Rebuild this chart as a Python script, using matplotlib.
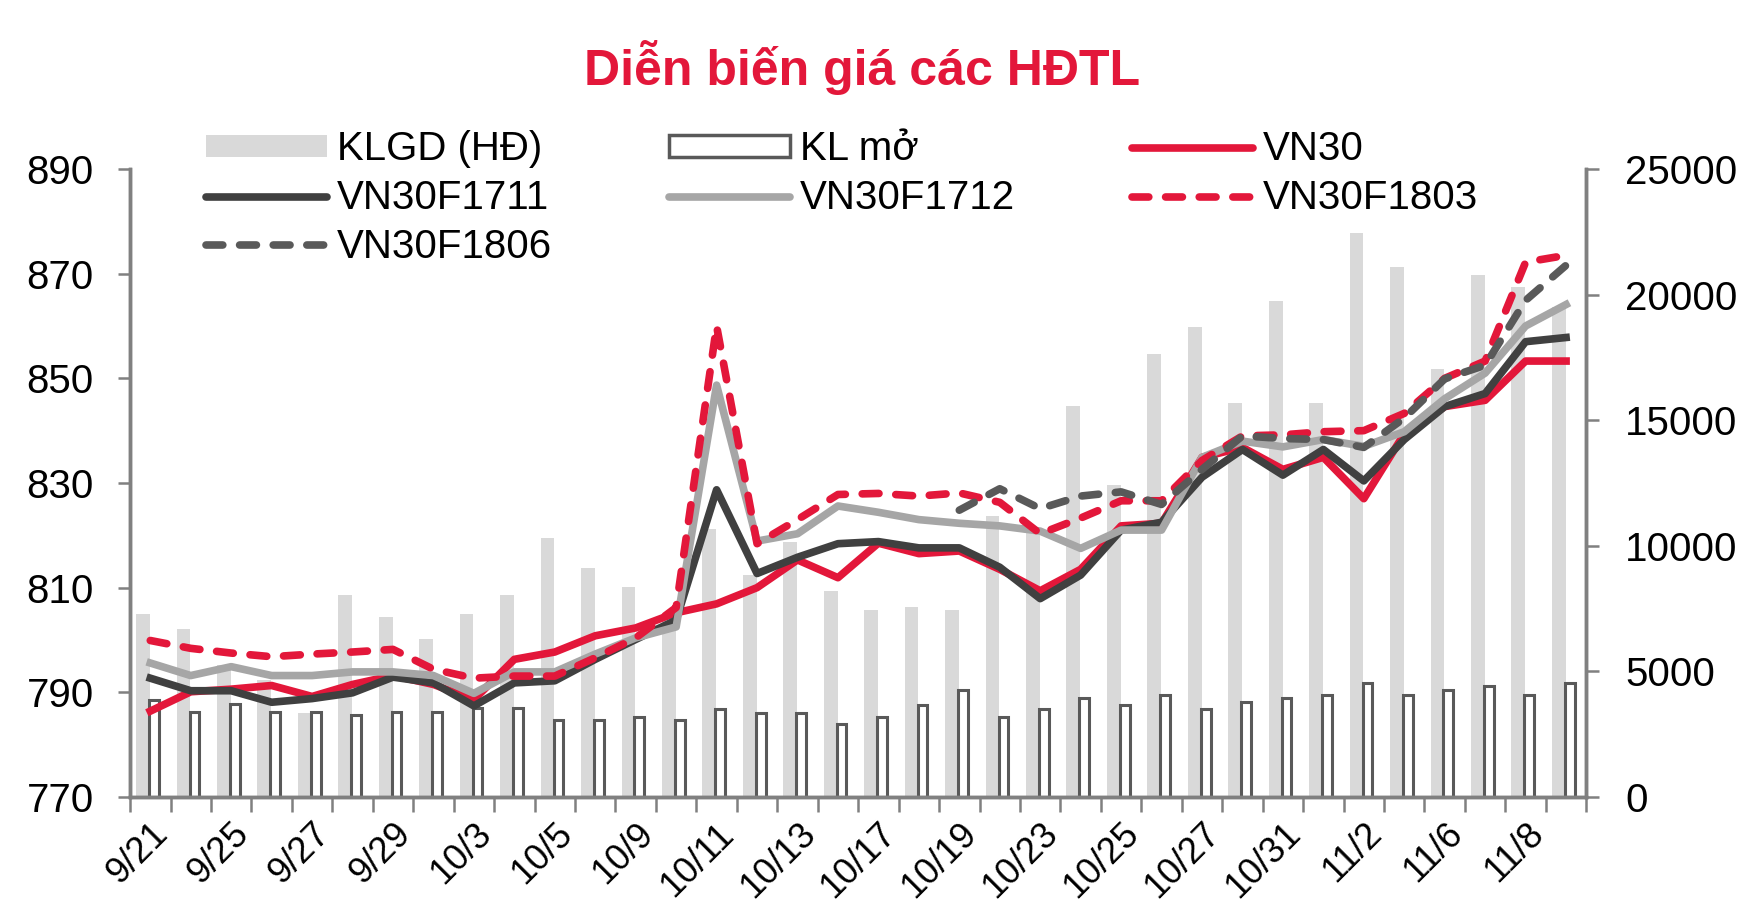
import numpy as np
import matplotlib
matplotlib.use("Agg")
import matplotlib.pyplot as plt
from matplotlib.patches import Patch
from matplotlib.lines import Line2D

plt.rcParams['font.family'] = ['Liberation Sans', 'DejaVu Sans']

# ---------------- data ----------------
dates = ['9/21', '9/22', '9/25', '9/26', '9/27', '9/28', '9/29', '10/2', '10/3',
         '10/4', '10/5', '10/6', '10/9', '10/10', '10/11', '10/12', '10/13',
         '10/16', '10/17', '10/18', '10/19', '10/20', '10/23', '10/24', '10/25',
         '10/26', '10/27', '10/30', '10/31', '11/1', '11/2', '11/3', '11/6',
         '11/7', '11/8', '11/9']

klgd = [7300, 6700, 5250, 4650, 3350, 8050, 7150, 6300, 7300, 8050, 10300, 9100,
        8350, 7000, 10650, 8850, 10150, 8200, 7450, 7550, 7450, 11200, 10500,
        15550, 12400, 17650, 18700, 15700, 19750, 15700, 22450, 21100, 17050,
        20800, 20300, 19500]

kl_mo = [3850, 3400, 3700, 3400, 3400, 3250, 3400, 3400, 3550, 3550, 3050, 3050,
         3200, 3050, 3500, 3350, 3350, 2900, 3200, 3650, 4250, 3200, 3500, 3950,
         3650, 4050, 3500, 3800, 3950, 4050, 4550, 4050, 4250, 4400, 4050, 4550]

vn30 = [786.4, 790.1, 790.6, 791.3, 789.2, 791.5, 793.2, 791.5, 788.6, 796.3,
        797.7, 800.8, 802.3, 805.2, 806.9, 810.0, 815.3, 811.9, 818.5, 816.5,
        817.0, 813.5, 809.4, 813.5, 821.8, 822.3, 834.9, 836.8, 832.6, 834.9,
        827.0, 839.4, 844.6, 845.8, 853.3, 853.3]

f1711 = [792.7, 790.3, 790.3, 788.1, 788.8, 789.9, 792.9, 791.8, 787.4, 791.8,
         792.2, 796.3, 800.1, 803.8, 828.7, 812.7, 815.8, 818.4, 818.8, 817.6,
         817.6, 813.9, 807.9, 812.4, 821.0, 822.5, 831.1, 836.4, 831.5, 836.4,
         830.4, 838.3, 844.6, 847.1, 857.0, 857.8]

f1712 = [795.6, 793.2, 794.9, 793.2, 793.2, 793.9, 793.9, 793.2, 789.8, 793.9,
         793.9, 797.3, 800.4, 802.5, 848.7, 818.9, 820.3, 825.6, 824.4, 823.0,
         822.3, 821.8, 820.8, 817.5, 821.0, 821.0, 834.9, 838.0, 836.9, 838.3,
         837.0, 839.8, 846.1, 851.0, 860.0, 864.1]

f1803 = [799.9, 798.4, 797.5, 796.8, 797.3, 797.7, 798.2, 794.4, 792.7, 793.1,
         793.1, 796.6, 800.4, 806.2, 860.0, 818.4, 823.0, 827.8, 828.0, 827.5,
         828.1, 826.3, 820.3, 823.3, 826.6, 826.6, 834.3, 839.0, 839.2, 839.8,
         840.0, 843.3, 850.0, 853.3, 872.2, 873.5]

f1806 = [np.nan] * 20 + [824.8, 828.9, 825.1, 827.5, 828.3, 825.9, 832.6, 839.0,
                         838.5, 838.3, 836.8, 842.4, 849.9, 852.5, 864.9, 871.6]

# ---------------- styles ----------------
RED = '#E3173A'
DARK = '#404040'
GRAY = '#A6A6A6'
DGRAY = '#595959'
BARGRAY = '#D9D9D9'
AXC = '#808080'
FS = 29
DASH = (0, (2.2, 2.2))

x = np.arange(len(dates))

fig = plt.figure(figsize=(17.6, 9.17), dpi=100)
ax = fig.add_axes([0.0739, 0.1309, 0.8274, 0.6848])

# bars (right axis)
ax.bar(x - 0.18, klgd, width=0.34, color=BARGRAY, zorder=1)
ax.bar(x + 0.09, kl_mo, width=0.24, facecolor='white', edgecolor=DGRAY,
       linewidth=2.2, zorder=2)
ax.set_ylim(0, 25000)
ax.set_yticks(np.arange(0, 25001, 5000))
ax.set_xlim(-0.5, len(dates) - 0.5)

# lines (left axis)
ax2 = ax.twinx()
lw = 5.5
ax2.plot(x, vn30, color=RED, lw=lw, solid_joinstyle='round', zorder=3)
ax2.plot(x, f1711, color=DARK, lw=lw, solid_joinstyle='round', zorder=4)
ax2.plot(x, f1712, color=GRAY, lw=lw, solid_joinstyle='round', zorder=5)
ax2.plot(x, f1803, color=RED, lw=lw, ls=DASH, dash_capstyle='round', zorder=6)
ax2.plot(x, f1806, color=DGRAY, lw=lw, ls=DASH, dash_capstyle='round', zorder=7)
ax2.set_ylim(770, 890)
ax2.set_yticks(np.arange(770, 891, 20))
ax2.set_xlim(-0.5, len(dates) - 0.5)

# swap sides: prices on the left, volumes on the right
ax.yaxis.tick_right()
ax2.yaxis.tick_left()

for a in (ax, ax2):
    a.spines['top'].set_visible(False)
    for s in ('left', 'right', 'bottom'):
        a.spines[s].set_color(AXC)
        a.spines[s].set_linewidth(2.5)
ax.tick_params(axis='y', labelsize=FS, length=9, width=1.8, color=AXC, pad=19)
ax2.tick_params(axis='y', labelsize=FS, length=9, width=1.8, color=AXC, pad=17)

# x axis: tick marks at slot boundaries, labels on every second date
ax.set_xticks(np.arange(-0.5, len(dates), 1.0))
ax.set_xticklabels([])
ax.tick_params(axis='x', which='major', length=11, width=1.8, color=AXC)
ax.set_xticks(x[::2], minor=True)
ax.set_xticklabels(dates[::2], minor=True, rotation=45, ha='right',
                   rotation_mode='anchor', fontsize=26)
ax.tick_params(axis='x', which='minor', length=0, pad=14)

# title
fig.text(0.49, 0.926, 'Diễn biến giá các HĐTL', color=RED, fontsize=36,
         fontweight='bold', ha='center', va='center')

# legend (column order so rows read like the original)
h_klgd = Patch(facecolor=BARGRAY, edgecolor='none')
h_klmo = Patch(facecolor='white', edgecolor=DGRAY, linewidth=2.5)
h_vn30 = Line2D([], [], color=RED, lw=lw, solid_capstyle='round')
h_1711 = Line2D([], [], color=DARK, lw=lw, solid_capstyle='round')
h_1712 = Line2D([], [], color=GRAY, lw=lw, solid_capstyle='round')
h_1803 = Line2D([], [], color=RED, lw=lw, ls=DASH, dash_capstyle='round')
h_1806 = Line2D([], [], color=DGRAY, lw=lw, ls=DASH, dash_capstyle='round')

handles = [h_klgd, h_1711, h_1806, h_klmo, h_1712, h_vn30, h_1803]
labels = ['KLGD (HĐ)', 'VN30F1711', 'VN30F1806', 'KL mở', 'VN30F1712',
          'VN30', 'VN30F1803']
fig.legend(handles, labels, loc='upper left', bbox_to_anchor=(206 / 1760, 0.858),
           ncol=3, frameon=False, fontsize=FS, borderpad=0, borderaxespad=0,
           handlelength=3.0, handleheight=0.45, handletextpad=0.25,
           columnspacing=2.9, labelspacing=0.27)

fig.savefig('out.png', dpi=100)
